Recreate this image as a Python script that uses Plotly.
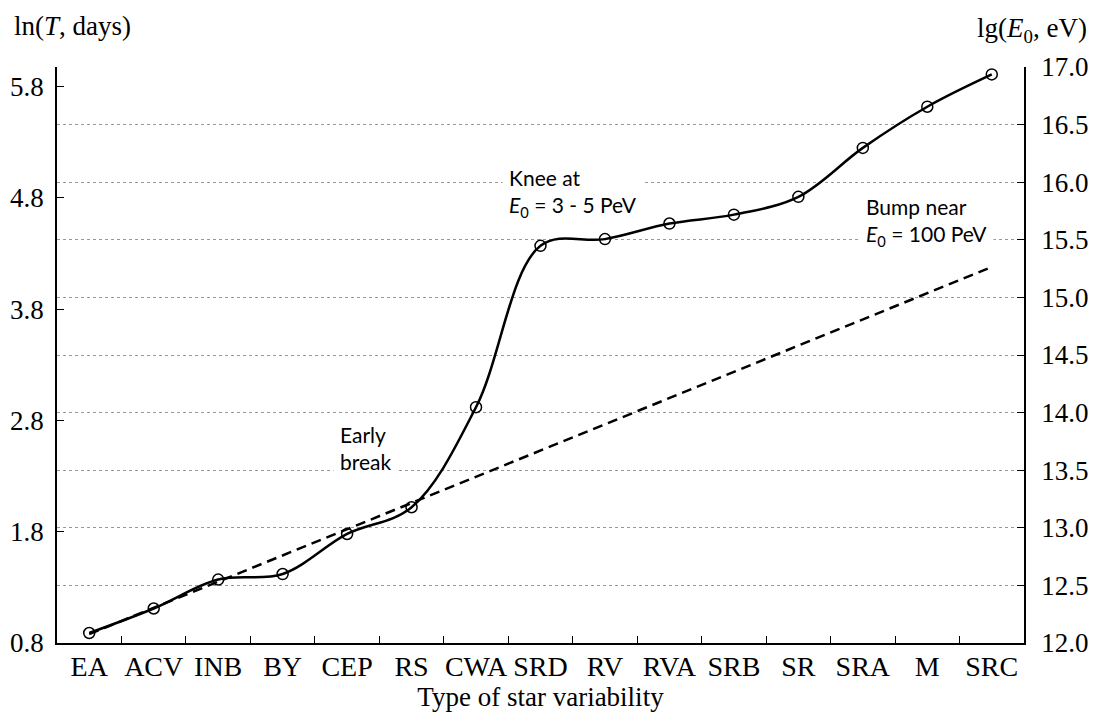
import plotly.graph_objects as go

# ---- data ----
categories = ["EA", "ACV", "INB", "BY", "CEP", "RS", "CWA", "SRD",
              "RV", "RVA", "SRB", "SR", "SRA", "M", "SRC"]
ln_T = [0.89, 1.11, 1.37, 1.42, 1.78, 2.02, 2.92, 4.37,
        4.43, 4.57, 4.65, 4.81, 5.25, 5.62, 5.91]
trend_categories = ["EA", "SRC"]
trend_ln_T = [0.88, 4.18]
left_ticks = [0.8, 1.8, 2.8, 3.8, 4.8, 5.8]
right_ticks = [12.0, 12.5, 13.0, 13.5, 14.0, 14.5, 15.0, 15.5, 16.0, 16.5, 17.0]

# ---- layout geometry (pixels) ----
W, H = 1099, 714
PL, PR, PT, PB = 57, 1024, 67, 643
SERIF = "Liberation Serif, Times New Roman, serif"
SANS = "Lato, Carlito, Calibri, sans-serif"


def px_x(x):
    return (x - PL) / (PR - PL)


def px_y(y):
    return (PB - y) / (PB - PT)


fig = go.Figure()

fig.add_trace(go.Scatter(
    x=trend_categories, y=trend_ln_T, mode="lines",
    line=dict(color="black", width=2.5, dash="10px,6px"),
    showlegend=False, hoverinfo="skip"))

fig.add_trace(go.Scatter(
    x=categories, y=ln_T, mode="lines+markers",
    line=dict(color="black", width=2.5, shape="spline", smoothing=1.0),
    marker=dict(symbol="circle-open", size=11, color="black",
                line=dict(color="black", width=1.5)),
    showlegend=False))

# empty trace to register the right-hand axis
fig.add_trace(go.Scatter(x=[], y=[], yaxis="y2", showlegend=False))

fig.update_layout(
    width=W, height=H,
    margin=dict(l=PL, r=W - PR, t=PT, b=H - PB, pad=0, autoexpand=False),
    paper_bgcolor="white", plot_bgcolor="white",
    font=dict(family=SERIF, size=27, color="black"),
    xaxis=dict(
        type="category", categoryorder="array", categoryarray=categories,
        range=[-0.5, len(categories) - 0.5], automargin=False,
        tickson="boundaries", ticks="inside", ticklen=7, tickwidth=1.2,
        tickcolor="black", showline=True, linecolor="black", linewidth=1.5,
        showgrid=False, zeroline=False, tickangle=0,
        tickfont=dict(family=SERIF, size=28, color="black"),
        ticklabelstandoff=-2,
        title=dict(text="Type of star variability",
                   font=dict(family=SERIF, size=27, color="black"),
                   standoff=2),
    ),
    yaxis=dict(
        range=[0.8, 5.977], tickvals=left_ticks, automargin=False,
        ticktext=[f"{v:.1f}" for v in left_ticks],
        ticks="inside", ticklen=7, tickwidth=1.2, tickcolor="black",
        showline=True, linecolor="black", linewidth=1.5,
        showgrid=False, zeroline=False,
        tickfont=dict(family=SERIF, size=27, color="black"),
        ticklabelstandoff=6,
    ),
    yaxis2=dict(
        overlaying="y", side="right", range=[12.0, 17.0], automargin=False,
        tickvals=right_ticks, ticktext=[f"{v:.1f}" for v in right_ticks],
        ticks="inside", ticklen=7, tickwidth=1.2, tickcolor="black",
        showline=True, linecolor="black", linewidth=1.5,
        showgrid=True, gridcolor="#999999", griddash="dot", gridwidth=1,
        zeroline=False,
        tickfont=dict(family=SERIF, size=27, color="black"),
        ticklabelstandoff=10,
    ),
)

annotations = [
    dict(text="ln(<i>T</i>, days)", x=px_x(12), y=px_y(26), xanchor="left",
         yanchor="middle", font=dict(family=SERIF, size=27, color="black")),
    dict(text="lg(<i>E</i><sub>0</sub>, eV)", x=px_x(1089), y=px_y(30),
         xanchor="right", yanchor="middle",
         font=dict(family=SERIF, size=27, color="black")),
    dict(text="Knee at<br><i>E</i><sub>0</sub> = 3 - 5 PeV", x=px_x(502),
         y=px_y(193), xanchor="left", yanchor="middle", align="left",
         bgcolor="white", borderpad=6,
         font=dict(family=SANS, size=21, color="black")),
    dict(text="Early<br>break", x=px_x(333), y=px_y(448), xanchor="left",
         yanchor="middle", align="left", bgcolor="white", borderpad=6,
         font=dict(family=SANS, size=21, color="black")),
    dict(text="Bump near<br><i>E</i><sub>0</sub> = 100 PeV", x=px_x(859),
         y=px_y(222), xanchor="left", yanchor="middle", align="left",
         bgcolor="white", borderpad=6,
         font=dict(family=SANS, size=21, color="black")),
]
for a in annotations:
    a.update(xref="paper", yref="paper", showarrow=False)
fig.update_layout(annotations=annotations)

fig.write_html("out.html")
